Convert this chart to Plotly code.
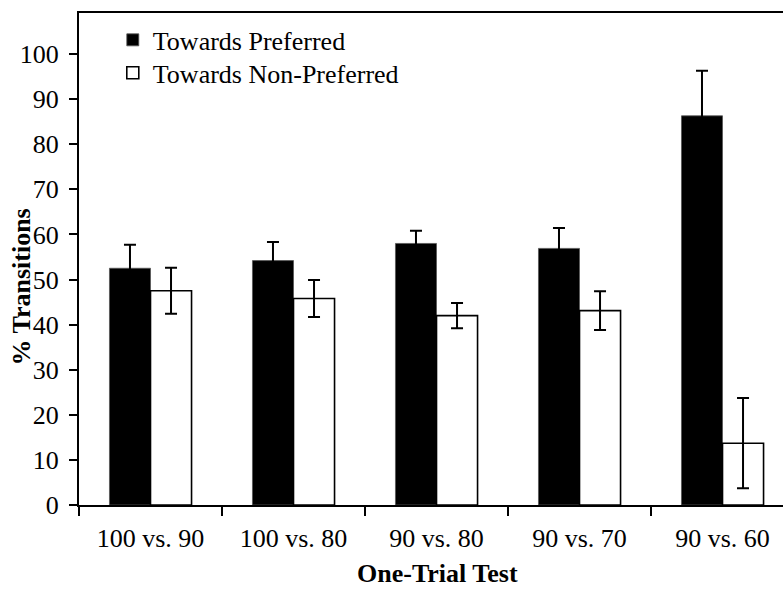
import plotly.graph_objects as go

# One-trial test comparisons and transition percentages
categories = ["100 vs. 90", "100 vs. 80", "90 vs. 80", "90 vs. 70", "90 vs. 60"]
preferred = [52.5, 54.2, 58.0, 56.9, 86.3]
preferred_err = [5.2, 4.1, 2.8, 4.5, 10.0]
non_preferred = [47.5, 45.8, 42.0, 43.1, 13.7]
non_preferred_err = [5.1, 4.1, 2.8, 4.3, 10.0]
y_ticks = [0, 10, 20, 30, 40, 50, 60, 70, 80, 90, 100]

FONT = "Liberation Serif, Times New Roman, serif"

fig = go.Figure()
fig.add_trace(go.Bar(
    name="Towards Preferred",
    x=categories, y=preferred,
    legend="legend",
    marker=dict(color="black", line=dict(color="#555555", width=0.8)),
    error_y=dict(type="data", array=preferred_err, visible=True,
                 color="black", thickness=2, width=6),
))
fig.add_trace(go.Bar(
    name="Towards Non-Preferred",
    x=categories, y=non_preferred,
    legend="legend2",
    marker=dict(color="white", line=dict(color="black", width=1.6)),
    error_y=dict(type="data", array=non_preferred_err, visible=True,
                 color="black", thickness=2, width=6),
))

legend_style = dict(xanchor="left", yanchor="top", bgcolor="rgba(0,0,0,0)",
                    font=dict(family=FONT, size=26, color="black"),
                    itemclick=False, itemdoubleclick=False)

fig.update_layout(
    width=783, height=590,
    margin=dict(l=79, r=0, t=13, b=85),
    paper_bgcolor="white", plot_bgcolor="white",
    barmode="group", bargap=0.426, bargroupgap=0,
    font=dict(family=FONT, size=26, color="black"),
    showlegend=True,
    legend=dict(x=0.048, y=0.993, **legend_style),
    legend2=dict(x=0.048, y=0.926, **legend_style),
    xaxis=dict(
        range=[-0.5, 4.423],
        showline=True, linecolor="black", linewidth=2, mirror=True,
        ticks="outside", tickson="boundaries", ticklen=9, tickwidth=2,
        tickcolor="black", ticklabelstandoff=9,
        showgrid=False, zeroline=False,
    ),
    yaxis=dict(
        range=[0, 109.1],
        tickvals=y_ticks,
        showline=True, linecolor="black", linewidth=2,
        ticks="outside", ticklen=8, tickwidth=2, tickcolor="black",
        ticklabelstandoff=5,
        showgrid=False, zeroline=False,
    ),
    annotations=[
        dict(text="<b>% Transitions</b>", textangle=-90,
             xref="paper", yref="paper", x=-0.0817, y=0.443,
             xanchor="center", yanchor="middle", showarrow=False,
             font=dict(family=FONT, size=26, color="black")),
        dict(text="<b>One-Trial Test</b>",
             xref="paper", yref="paper", x=(437 - 79) / 704, y=(505 - 573) / 492,
             xanchor="center", yanchor="middle", showarrow=False,
             font=dict(family=FONT, size=26, color="black")),
    ],
)

fig.write_html("out.html")
